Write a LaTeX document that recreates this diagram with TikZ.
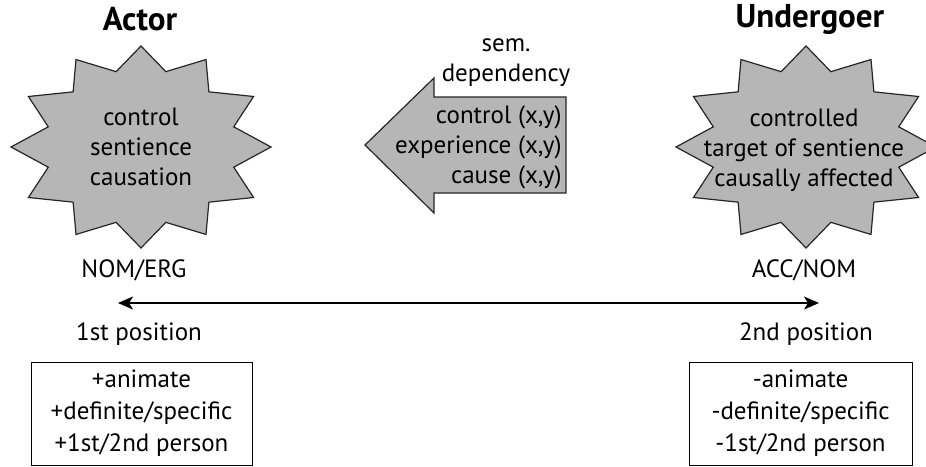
\documentclass[tikz,border=0pt]{standalone}
\usepackage{fontspec}
\setmainfont{PT Sans}
\usetikzlibrary{arrows,arrows.meta}
\usetikzlibrary{calc}
\usetikzlibrary{positioning}
\definecolor{stargray}{RGB}{182,182,182}
\tikzset{role/.style={font=\fontsize{16.5}{19}\selectfont\bfseries}}
\tikzset{txt/.style={align=center, inner sep=0pt, font=\fontsize{12.5}{15}\selectfont}}
\tikzset{feat/.style={draw, thin, align=center, inner sep=0pt, font=\fontsize{12.5}{16}\selectfont, minimum width=110.5pt, minimum height=51.5pt}}
\tikzset{starline/.style={draw=black!85, fill=stargray, semithick, line join=miter}}

\begin{document}
\begin{tikzpicture}[x=0.5pt,y=-0.5pt,>={Stealth[length=7.5pt,width=6.5pt,inset=2pt]}]
\useasboundingbox (0,0) rectangle (926,466);
\fill[white] (0,0) rectangle (926,466);

% centres of the two stars
\coordinate (A) at (141,147);
\coordinate (U) at (806,147);

\draw[starline] ($(A)+(90:130 and 101)$)
  \foreach \i in {0,...,11} { -- ($(A)+(105+30*\i:96 and 78)$) -- ($(A)+(120+30*\i:130 and 101)$) } -- cycle;
\draw[starline] ($(U)+(90:130 and 101)$)
  \foreach \i in {0,...,11} { -- ($(U)+(105+30*\i:96 and 78)$) -- ($(U)+(120+30*\i:130 and 101)$) } -- cycle;

\node[role] (actor)     at (140,19) {Actor};
\node[role] (undergoer) at (810,19) {Undergoer};

\node[txt] (actorprops)     at (A)         {control\\sentience\\causation};
\node[txt] (undergoerprops) at (804,150)   {controlled\\target of sentience\\causally affected};
\node[txt] (nomerg)         at (134,270)   {NOM/ERG};
\node[txt] (accnom)         at (804,270)   {ACC/NOM};

% semantic dependency arrow
\draw[starline] (365,145) -- (434,78) -- (434,97) -- (566,97) -- (566,193)
  -- (434,193) -- (434,213) -- cycle;
\node[txt, align=right, anchor=east] (relations) at (562,147) {control (x,y)\\experience (x,y)\\cause (x,y)};
\node[txt] (semdep) at (506,63) {sem.\\dependency};

% word order
\coordinate (first)  at (118,303);
\coordinate (second) at (819,303);
\draw[<->, line width=0.9pt] (first) -- (second);

\node[txt] (pos1) at (139,334) {1st position};
\node[txt] (pos2) at (806,334) {2nd position};

\node[feat] (actorfeat)     at (141.5,413.5) {+animate\\+definite/specific\\+1st/2nd person};
\node[feat, minimum width=111.5pt] (undergoerfeat) at (800.5,413.5) {-animate\\-definite/specific\\-1st/2nd person};

\end{tikzpicture}
\end{document}
